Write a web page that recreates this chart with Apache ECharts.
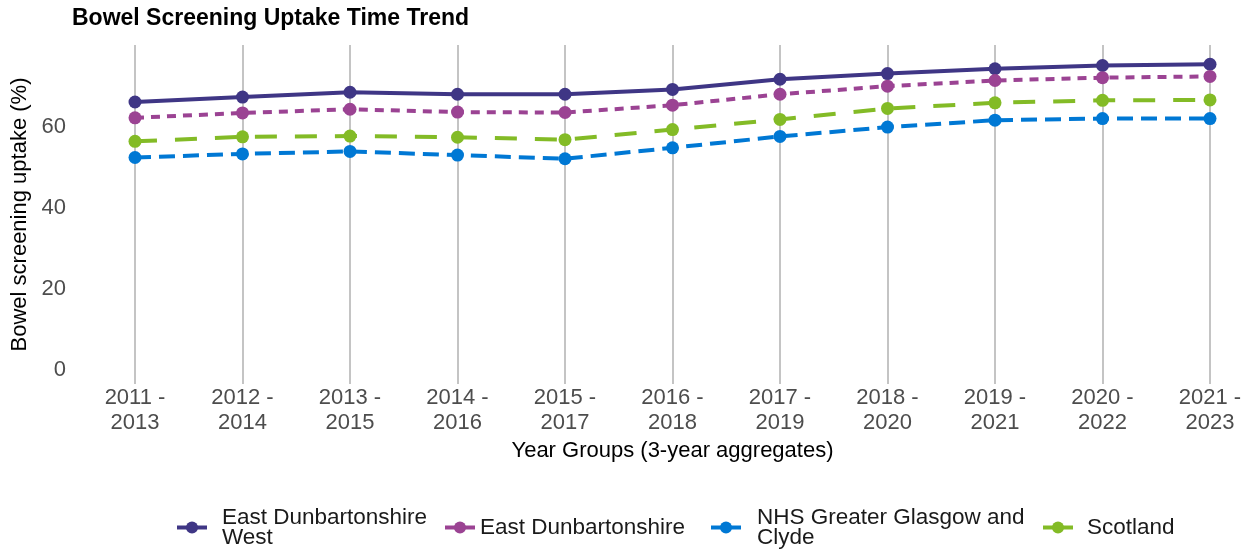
<!DOCTYPE html>
<html>
<head>
<meta charset="utf-8">
<script src="https://cdn.jsdelivr.net/npm/echarts@6/dist/echarts.min.js"></script>
<style>
html,body{margin:0;padding:0;background:#fff;}
#chart{width:1253px;height:551px;}
</style>
</head>
<body>
<div id="chart"></div>
<script>
const categories = ['2011 - 2013','2012 - 2014','2013 - 2015','2014 - 2016','2015 - 2017','2016 - 2018','2017 - 2019','2018 - 2020','2019 - 2021','2020 - 2022','2021 - 2023'];
const eastDunWest = [66.1, 67.3, 68.5, 68.0, 68.0, 69.2, 71.7, 73.1, 74.3, 75.1, 75.4];
const eastDun = [62.2, 63.4, 64.3, 63.6, 63.5, 65.3, 68.0, 70.0, 71.4, 72.1, 72.4];
const ggc = [52.4, 53.3, 53.9, 53.0, 52.1, 54.8, 57.6, 59.9, 61.6, 62.0, 62.0];
const scotland = [56.4, 57.5, 57.7, 57.4, 56.8, 59.3, 61.8, 64.5, 65.9, 66.5, 66.6];
const yTickLabels = [0, 20, 40, 60];

const seriesNames = ['East Dunbartonshire West','East Dunbartonshire','NHS Greater Glasgow and Clyde','Scotland'];
const legendLabels = {
  'East Dunbartonshire West': 'East Dunbartonshire\nWest',
  'East Dunbartonshire': 'East Dunbartonshire',
  'NHS Greater Glasgow and Clyde': 'NHS Greater Glasgow and\nClyde',
  'Scotland': 'Scotland'
};
const FONT = '"Liberation Sans", Arial, Helvetica, sans-serif';

function mkSeries(name, data, color, type, width) {
  return {
    name: name, type: 'line', data: data,
    symbol: 'circle', symbolSize: 13,
    itemStyle: {color: color},
    lineStyle: {color: color, width: width, type: type},
    emphasis: {disabled: true},
    animation: false
  };
}

function mkLegend(name, left, top, padLeft) {
  return {
    data: [name], left: left, top: top,
    itemWidth: 30, itemHeight: 15, itemGap: 0, padding: 0,
    lineStyle: {type: 'solid', width: 4},
    formatter: n => legendLabels[n],
    textStyle: {fontFamily: FONT, fontSize: 22.5, color: '#1a1a1a', lineHeight: 20, padding: [0,0,0,padLeft]},
    selectedMode: false
  };
}

const chart = echarts.init(document.getElementById('chart'), null, {renderer: 'canvas'});
chart.setOption({
  backgroundColor: '#ffffff',
  animation: false,
  title: {
    text: 'Bowel Screening Uptake Time Trend', left: 72, top: 7, padding: 0,
    textStyle: {fontFamily: FONT, fontSize: 23, fontWeight: 'bold', color: '#000'}
  },
  legend: [
    mkLegend(seriesNames[0], 175, 506, 10),
    mkLegend(seriesNames[1], 443, 516, 0),
    mkLegend(seriesNames[2], 709, 506, 11),
    mkLegend(seriesNames[3], 1041, 516, 9)
  ],
  grid: {left: 135, right: 43, top: 45, bottom: 167, containLabel: false},
  xAxis: {
    type: 'category', data: categories, boundaryGap: false,
    name: 'Year Groups (3-year aggregates)', nameLocation: 'middle', nameGap: 51,
    nameTextStyle: {fontFamily: FONT, fontSize: 22, color: '#000'},
    axisLine: {show: false}, axisTick: {show: false},
    axisLabel: {
      fontFamily: FONT, fontSize: 22, color: '#4d4d4d', lineHeight: 25, margin: 1,
      interval: 0, formatter: v => v.replace(' - ', ' -\n')
    },
    splitLine: {show: true, lineStyle: {color: '#c4c4c4', width: 2}}
  },
  yAxis: {
    type: 'value', min: -3.45, max: 80.15,
    name: 'Bowel screening uptake (%)', nameLocation: 'middle', nameGap: 103, nameRotate: 90,
    nameTextStyle: {fontFamily: FONT, fontSize: 22, color: '#000'},
    axisLine: {show: false}, axisTick: {show: false},
    splitLine: {show: false},
    axisLabel: {
      fontFamily: FONT, fontSize: 22, color: '#4d4d4d', margin: 69,
      customValues: yTickLabels, showMinLabel: true, showMaxLabel: true
    }
  },
  series: [
    mkSeries(seriesNames[0], eastDunWest, '#3f3685', 'solid', 4),
    mkSeries(seriesNames[1], eastDun, '#9b4393', [9, 7], 4),
    mkSeries(seriesNames[2], ggc, '#0078d4', [16, 8], 4),
    mkSeries(seriesNames[3], scotland, '#83bb26', [22, 18], 4)
  ]
});
</script>
</body>
</html>
